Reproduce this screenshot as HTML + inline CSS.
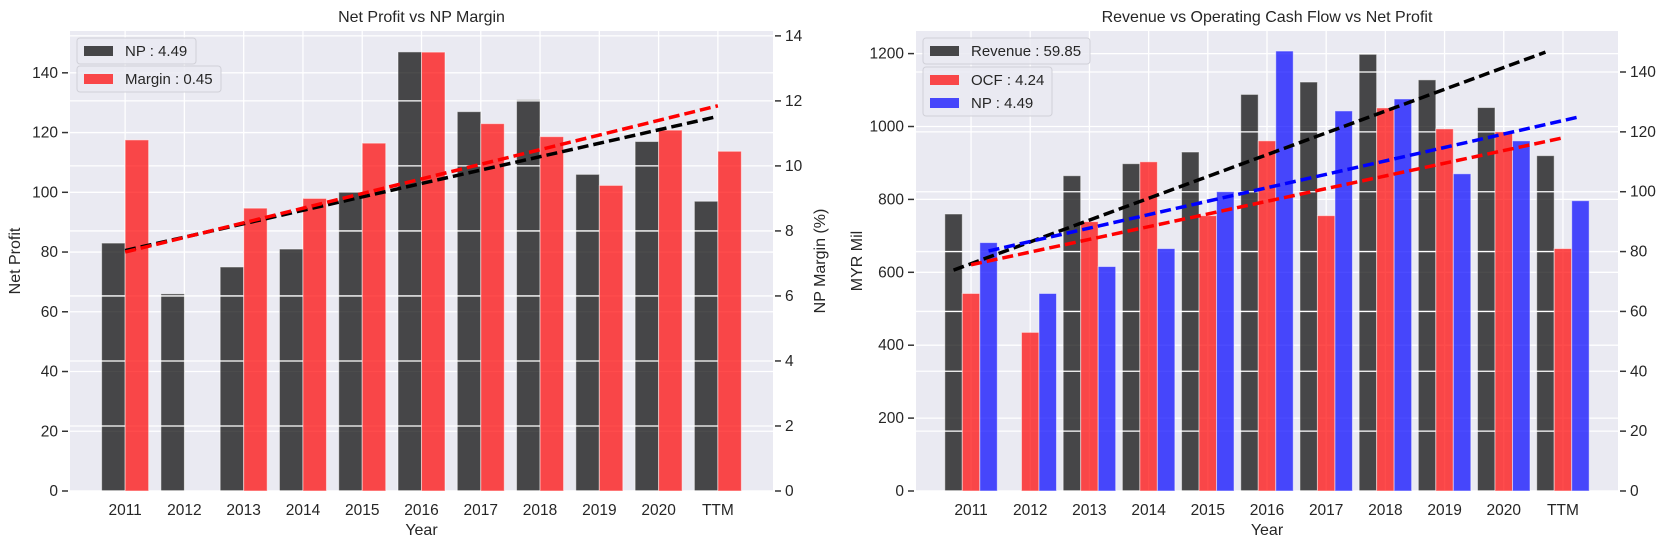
<!DOCTYPE html>
<html><head><meta charset="utf-8"><style>
html,body{margin:0;padding:0;background:#fff;}
svg{display:block;font-family:"Liberation Sans",Arial,sans-serif;}
</style></head><body>
<svg id="c" width="1668" height="550" viewBox="0 0 1668 550" xmlns="http://www.w3.org/2000/svg"></svg>
<script>
const categories=["2011","2012","2013","2014","2015","2016","2017","2018","2019","2020","TTM"];
const npValues=[83,66,75,81,100,147,127,131,106,117,97];
const marginValues=[10.8,null,8.7,9.0,10.7,13.5,11.3,10.9,9.4,11.1,10.45];
const revenueValues=[760,null,865,898,930,1088,1122,1198,1128,1052,920];
const ocfValues=[66,53,90,110,92,117,92,128,121,120,81];
const npTrend=[80.5,125.4];
const marginTrend=[7.35,11.85];
const revenueTrend=[606,1204];
const ocfTrend=[75.6,118];
const npTrend2=[80.2,125.1];
const leftTicksL=[0,20,40,60,80,100,120,140];
const leftTicksR=[0,2,4,6,8,10,12,14];
const rightTicksL=[0,200,400,600,800,1000,1200];
const rightTicksR=[0,20,40,60,80,100,120,140];

const svg=document.getElementById('c');
const NS="http://www.w3.org/2000/svg";
function mk(tag,attrs,parent){const e=document.createElementNS(NS,tag);for(const k in attrs)e.setAttribute(k,attrs[k]);(parent||svg).appendChild(e);return e;}

function chart(cfg){
  const g=mk('g',{});
  
  
  const {x0,x1,y0,y1}=cfg;
  const n=categories.length;
  const xs=i=>x0+(i+0.93)*((x1-x0)/(n-1+1.86));
  const yL=v=>y1-(v/cfg.lmax)*(y1-y0);
  const yR=v=>y1-(v/cfg.rmax)*(y1-y0);
  const bg=mk('rect',{x:x0,y:y0,width:x1-x0,height:y1-y0,fill:'#eaeaf2'},g);
  
  
  categories.forEach((c,i)=>{mk('line',{x1:xs(i),x2:xs(i),y1:y0,y2:y1,stroke:'#fff','stroke-width':1.3},g);});
  cfg.lt.forEach(t=>{const y=yL(t);mk('line',{x1:x0,x2:x1,y1:y,y2:y,stroke:'#fff','stroke-width':1.3},g);
    mk('line',{x1:x0-8,x2:x0-2,y1:y,y2:y,stroke:'#333','stroke-width':1.5},g);
    const t1=mk('text',{x:x0-12,y:y+5,'text-anchor':'end','font-size':15.5,fill:'#262626'},g);t1.textContent=t;
    });
  const bw=cfg.bw;
  cfg.leftSeries.forEach(s=>{s.vals.forEach((v,i)=>{if(v==null)return;
    const b=mk('rect',{x:xs(i)+s.off*bw-bw/2,y:yL(v),width:bw,height:y1-yL(v),fill:s.color,'fill-opacity':0.7,stroke:'#fff','stroke-opacity':0.5,'stroke-width':1},g);
    });});
  cfg.rt.forEach(t=>{const y=yR(t);mk('line',{x1:x0,x2:x1,y1:y,y2:y,stroke:'#fff','stroke-width':1.3},g);
    mk('line',{x1:x1+2,x2:x1+8,y1:y,y2:y,stroke:'#333','stroke-width':1.5},g);
    const t1=mk('text',{x:x1+12,y:y+5,'text-anchor':'start','font-size':15.5,fill:'#262626'},g);t1.textContent=t;
    });
  cfg.rightSeries.forEach(s=>{s.vals.forEach((v,i)=>{if(v==null)return;
    const b=mk('rect',{x:xs(i)+s.off*bw-bw/2,y:yR(v),width:bw,height:y1-yR(v),fill:s.color,'fill-opacity':0.7,stroke:'#fff','stroke-opacity':0.5,'stroke-width':1},g);
    });});
  cfg.trends.forEach(t=>{const f=t.axis==='L'?yL:yR;
    const l=mk('line',{x1:xs(0)+t.off*bw,x2:xs(n-1)+t.off*bw,y1:f(t.v[0]),y2:f(t.v[1]),stroke:t.color,'stroke-width':3.5,'stroke-dasharray':'11 5'},g);
    });
  categories.forEach((c,i)=>{const t=mk('text',{x:xs(i),y:y1+24,'text-anchor':'middle','font-size':15.5,fill:'#262626'},g);t.textContent=c;
    });
  const xt=mk('text',{x:(x0+x1)/2,y:y1+44,'text-anchor':'middle','font-size':16,fill:'#262626'},g);xt.textContent='Year';
  
  const tt=mk('text',{x:(x0+x1)/2,y:y0-9,'text-anchor':'middle','font-size':16,fill:'#262626'},g);tt.textContent=cfg.title;
  
  const yl=mk('text',{x:0,y:0,'text-anchor':'middle','font-size':16,fill:'#262626',transform:`translate(${cfg.ylx},${(y0+y1)/2}) rotate(-90)`},g);yl.textContent=cfg.ylabel;
  
  if(cfg.yrlabel){const yr=mk('text',{x:0,y:0,'text-anchor':'middle','font-size':16,fill:'#262626',transform:`translate(${cfg.yrx},${(y0+y1)/2}) rotate(-90)`},g);yr.textContent=cfg.yrlabel;
    }
  cfg.legends.forEach(L=>{const lg=mk('g',{},g);
    mk('rect',{x:L.x,y:L.y,width:L.w,height:L.items.length*23+3,rx:3,fill:'#eaeaf2','fill-opacity':0.85,stroke:'#d0d0d8','stroke-width':1},lg);
    L.items.forEach((it,k)=>{const yy=L.y+13+k*23;
      mk('rect',{x:L.x+7,y:yy-5,width:29,height:10,fill:it.color,'fill-opacity':0.7},lg);
      const t=mk('text',{x:L.x+48,y:yy+5,'font-size':15,fill:'#262626'},lg);t.textContent=it.label;
      });});
}
chart({name:'net-profit-vs-margin-chart',x0:70,x1:773,y0:31,y1:491,lmax:154,rmax:14.15,lt:leftTicksL,rt:leftTicksR,bw:23.5,
  leftSeries:[{key:'np',vals:npValues,color:'#000',off:-0.5}],
  rightSeries:[{key:'margin',vals:marginValues,color:'#ff0000',off:0.5}],
  trends:[{key:'np',axis:'L',v:npTrend,color:'#000',off:0},{key:'margin',axis:'R',v:marginTrend,color:'#ff0000',off:0}],
  title:'Net Profit vs NP Margin',ylabel:'Net Profit',ylx:20,yrlabel:'NP Margin (%)',yrx:825,
  legends:[{x:77,y:38,w:119,items:[{color:'#000',label:'NP : 4.49'}]},{x:77,y:66,w:144,items:[{color:'#ff0000',label:'Margin : 0.45'}]}]});
chart({name:'revenue-ocf-np-chart',x0:916,x1:1618,y0:31,y1:491,lmax:1262,rmax:153.7,lt:rightTicksL,rt:rightTicksR,bw:17.5,
  leftSeries:[{key:'revenue',vals:revenueValues,color:'#000',off:-1}],
  rightSeries:[{key:'ocf',vals:ocfValues,color:'#ff0000',off:0},{key:'np',vals:npValues,color:'#0000ff',off:1}],
  trends:[{key:'revenue',axis:'L',v:revenueTrend,color:'#000',off:-1},{key:'ocf',axis:'R',v:ocfTrend,color:'#ff0000',off:0},{key:'np',axis:'R',v:npTrend2,color:'#0000ff',off:1}],
  title:'Revenue vs Operating Cash Flow vs Net Profit',ylabel:'MYR Mil',ylx:862,
  legends:[{x:923,y:38,w:167,items:[{color:'#000',label:'Revenue : 59.85'}]},{x:923,y:67,w:129,items:[{color:'#ff0000',label:'OCF : 4.24'},{color:'#0000ff',label:'NP : 4.49'}]}]});
</script>
</body></html>
